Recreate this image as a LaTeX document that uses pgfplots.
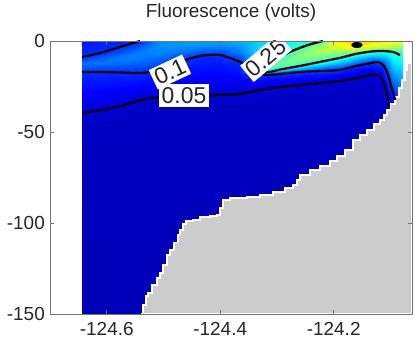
\documentclass[border=0pt]{standalone}
\usepackage{fontspec}
\setmainfont{Liberation Sans}
\usepackage{pgfplots}
\pgfplotsset{compat=1.18}
\begin{document}
\begin{tikzpicture}
\begin{axis}[
  width=362bp, height=273bp, scale only axis,
  xmin=-124.7, xmax=-124.062, ymin=-150, ymax=0,
  xtick={-124.6,-124.4,-124.2}, xticklabels={-124.6,-124.4,-124.2},
  ytick={-150,-100,-50,0}, yticklabels={-150,-100,-50,0},
  tick align=inside, major tick length=4bp,
  axis line style={black!55, line width=0.8bp},
  every tick/.style={black!55, line width=0.8bp},
  ticklabel style={font=\fontsize{19}{19}\selectfont, text=black!85},
  xticklabel style={anchor=base, inner sep=0pt, yshift=-21bp},
  yticklabel style={anchor=east, inner sep=0pt, xshift=-5bp},
  colormap/jet, point meta min=0, point meta max=0.6,
  axis on top,
  title={Fluorescence (volts)},
  title style={at={(0.5,1)}, anchor=base, inner sep=0pt, yshift=17.5bp, font=\fontsize{19}{19}\selectfont, text=black!85},
]
\addplot[surf, shader=interp, point meta=explicit, mesh/cols=19, mesh/rows=17]
 table[x=x, y=y, meta=v, row sep=\\] {
x y v\\
-124.644 0 0.085\\ -124.61 0 0.09\\ -124.575 0 0.095\\ -124.54 0 0.1\\ -124.505 0 0.16\\ -124.47 0 0.165\\ -124.435 0 0.17\\ -124.4 0 0.17\\ -124.365 0 0.18\\ -124.33 0 0.2\\ -124.295 0 0.22\\ -124.26 0 0.24\\ -124.225 0 0.26\\ -124.19 0 0.39\\ -124.16 0 0.41\\ -124.135 0 0.4\\ -124.115 0 0.39\\ -124.095 0 0.38\\ -124.078 0 0.36\\
-124.644 -3 0.09\\ -124.61 -3 0.0945\\ -124.575 -3 0.0995\\ -124.54 -3 0.126\\ -124.505 -3 0.16\\ -124.47 -3 0.161\\ -124.435 -3 0.16\\ -124.4 -3 0.155\\ -124.365 -3 0.168\\ -124.33 -3 0.207\\ -124.295 -3 0.23\\ -124.26 -3 0.252\\ -124.225 -3 0.315\\ -124.19 -3 0.36\\ -124.16 -3 0.39\\ -124.135 -3 0.36\\ -124.115 -3 0.35\\ -124.095 -3 0.34\\ -124.078 -3 0.32\\
-124.644 -6 0.095\\ -124.61 -6 0.099\\ -124.575 -6 0.122\\ -124.54 -6 0.151\\ -124.505 -6 0.1545\\ -124.47 -6 0.144\\ -124.435 -6 0.125\\ -124.4 -6 0.12\\ -124.365 -6 0.151\\ -124.33 -6 0.213\\ -124.295 -6 0.2405\\ -124.26 -6 0.29\\ -124.225 -6 0.326\\ -124.19 -6 0.31\\ -124.16 -6 0.29\\ -124.135 -6 0.25\\ -124.115 -6 0.245\\ -124.095 -6 0.255\\ -124.078 -6 0.27\\
-124.644 -9 0.102\\ -124.61 -9 0.124\\ -124.575 -9 0.147\\ -124.54 -9 0.149\\ -124.505 -9 0.138\\ -124.47 -9 0.12\\ -124.435 -9 0.098\\ -124.4 -9 0.097\\ -124.365 -9 0.123\\ -124.33 -9 0.22\\ -124.295 -9 0.2525\\ -124.26 -9 0.308\\ -124.225 -9 0.285\\ -124.19 -9 0.255\\ -124.16 -9 0.207\\ -124.135 -9 0.174\\ -124.115 -9 0.18\\ -124.095 -9 0.2295\\ -124.078 -9 0.243\\
-124.644 -12 0.138\\ -124.61 -12 0.145\\ -124.575 -12 0.14\\ -124.54 -12 0.132\\ -124.505 -12 0.1215\\ -124.47 -12 0.0987\\ -124.435 -12 0.0912\\ -124.4 -12 0.09\\ -124.365 -12 0.0986\\ -124.33 -12 0.235\\ -124.295 -12 0.29\\ -124.26 -12 0.271\\ -124.225 -12 0.235\\ -124.19 -12 0.189\\ -124.16 -12 0.139\\ -124.135 -12 0.102\\ -124.115 -12 0.12\\ -124.095 -12 0.209\\ -124.078 -12 0.226\\
-124.644 -15 0.125\\ -124.61 -15 0.118\\ -124.575 -15 0.117\\ -124.54 -15 0.115\\ -124.505 -15 0.105\\ -124.47 -15 0.0906\\ -124.435 -15 0.0842\\ -124.4 -15 0.0832\\ -124.365 -15 0.09\\ -124.33 -15 0.25\\ -124.295 -15 0.2576\\ -124.26 -15 0.191\\ -124.225 -15 0.145\\ -124.19 -15 0.12\\ -124.16 -15 0.09\\ -124.135 -15 0.078\\ -124.115 -15 0.0895\\ -124.095 -15 0.189\\ -124.078 -15 0.209\\
-124.644 -18 0.098\\ -124.61 -18 0.0976\\ -124.575 -18 0.098\\ -124.54 -18 0.0986\\ -124.505 -18 0.093\\ -124.47 -18 0.0826\\ -124.435 -18 0.0772\\ -124.4 -18 0.0763\\ -124.365 -18 0.0815\\ -124.33 -18 0.128\\ -124.295 -18 0.0993\\ -124.26 -18 0.093\\ -124.225 -18 0.0886\\ -124.19 -18 0.0828\\ -124.16 -18 0.0674\\ -124.135 -18 0.0553\\ -124.115 -18 0.0737\\ -124.095 -18 0.168\\ -124.078 -18 0.192\\
-124.644 -21 0.091\\ -124.61 -21 0.0904\\ -124.575 -21 0.09\\ -124.54 -21 0.0885\\ -124.505 -21 0.0829\\ -124.47 -21 0.0746\\ -124.435 -21 0.0702\\ -124.4 -21 0.0694\\ -124.365 -21 0.073\\ -124.33 -21 0.086\\ -124.295 -21 0.079\\ -124.26 -21 0.072\\ -124.225 -21 0.066\\ -124.19 -21 0.058\\ -124.16 -21 0.0488\\ -124.135 -21 0.0462\\ -124.115 -21 0.0579\\ -124.095 -21 0.148\\ -124.078 -21 0.176\\
-124.644 -24 0.0845\\ -124.61 -24 0.0833\\ -124.575 -24 0.0818\\ -124.54 -24 0.0784\\ -124.505 -24 0.0728\\ -124.47 -24 0.0666\\ -124.435 -24 0.0633\\ -124.4 -24 0.0624\\ -124.365 -24 0.0645\\ -124.33 -24 0.0677\\ -124.295 -24 0.0588\\ -124.26 -24 0.0514\\ -124.225 -24 0.0485\\ -124.19 -24 0.0467\\ -124.16 -24 0.0438\\ -124.135 -24 0.0412\\ -124.115 -24 0.0475\\ -124.095 -24 0.127\\ -124.078 -24 0.164\\
-124.644 -28 0.0757\\ -124.61 -28 0.0737\\ -124.575 -28 0.0709\\ -124.54 -28 0.0649\\ -124.505 -28 0.0594\\ -124.47 -28 0.0559\\ -124.435 -28 0.054\\ -124.4 -28 0.0532\\ -124.365 -28 0.0531\\ -124.33 -28 0.048\\ -124.295 -28 0.0455\\ -124.26 -28 0.0437\\ -124.225 -28 0.0418\\ -124.19 -28 0.04\\ -124.16 -28 0.0397\\ -124.135 -28 0.0395\\ -124.115 -28 0.0408\\ -124.095 -28 0.1\\ -124.078 -28 0.152\\
-124.644 -32 0.0668\\ -124.61 -32 0.0641\\ -124.575 -32 0.06\\ -124.54 -32 0.0514\\ -124.505 -32 0.048\\ -124.47 -32 0.047\\ -124.435 -32 0.0462\\ -124.4 -32 0.0457\\ -124.365 -32 0.0452\\ -124.33 -32 0.0415\\ -124.295 -32 0.0395\\ -124.26 -32 0.0395\\ -124.225 -32 0.0393\\ -124.19 -32 0.0393\\ -124.16 -32 0.039\\ -124.135 -32 0.039\\ -124.115 -32 0.0395\\ -124.095 -32 0.08\\ -124.078 -32 0.14\\
-124.644 -36 0.058\\ -124.61 -36 0.0545\\ -124.575 -36 0.0495\\ -124.54 -36 0.044\\ -124.505 -36 0.0413\\ -124.47 -36 0.0403\\ -124.435 -36 0.0395\\ -124.4 -36 0.0395\\ -124.365 -36 0.0395\\ -124.33 -36 0.0395\\ -124.295 -36 0.039\\ -124.26 -36 0.039\\ -124.225 -36 0.039\\ -124.19 -36 0.039\\ -124.16 -36 0.0388\\ -124.135 -36 0.0388\\ -124.115 -36 0.039\\ -124.095 -36 0.06\\ -124.078 -36 0.12\\
-124.644 -40 0.049\\ -124.61 -40 0.0465\\ -124.575 -40 0.0428\\ -124.54 -40 0.04\\ -124.505 -40 0.0395\\ -124.47 -40 0.0395\\ -124.435 -40 0.039\\ -124.4 -40 0.039\\ -124.365 -40 0.039\\ -124.33 -40 0.039\\ -124.295 -40 0.0388\\ -124.26 -40 0.0388\\ -124.225 -40 0.0388\\ -124.19 -40 0.0388\\ -124.16 -40 0.0385\\ -124.135 -40 0.0385\\ -124.115 -40 0.0388\\ -124.095 -40 0.047\\ -124.078 -40 0.1\\
-124.644 -46 0.04\\ -124.61 -46 0.0395\\ -124.575 -46 0.0395\\ -124.54 -46 0.039\\ -124.505 -46 0.039\\ -124.47 -46 0.039\\ -124.435 -46 0.0388\\ -124.4 -46 0.0388\\ -124.365 -46 0.0388\\ -124.33 -46 0.0388\\ -124.295 -46 0.0385\\ -124.26 -46 0.0385\\ -124.225 -46 0.0385\\ -124.19 -46 0.0385\\ -124.16 -46 0.0383\\ -124.135 -46 0.0383\\ -124.115 -46 0.0385\\ -124.095 -46 0.04\\ -124.078 -46 0.08\\
-124.644 -55 0.0387\\ -124.61 -55 0.0388\\ -124.575 -55 0.0385\\ -124.54 -55 0.038\\ -124.505 -55 0.038\\ -124.47 -55 0.038\\ -124.435 -55 0.038\\ -124.4 -55 0.038\\ -124.365 -55 0.038\\ -124.33 -55 0.038\\ -124.295 -55 0.038\\ -124.26 -55 0.038\\ -124.225 -55 0.038\\ -124.19 -55 0.038\\ -124.16 -55 0.038\\ -124.135 -55 0.038\\ -124.115 -55 0.038\\ -124.095 -55 0.038\\ -124.078 -55 0.06\\
-124.644 -80 0.036\\ -124.61 -80 0.036\\ -124.575 -80 0.036\\ -124.54 -80 0.036\\ -124.505 -80 0.036\\ -124.47 -80 0.036\\ -124.435 -80 0.036\\ -124.4 -80 0.036\\ -124.365 -80 0.036\\ -124.33 -80 0.036\\ -124.295 -80 0.036\\ -124.26 -80 0.036\\ -124.225 -80 0.036\\ -124.19 -80 0.036\\ -124.16 -80 0.036\\ -124.135 -80 0.036\\ -124.115 -80 0.036\\ -124.095 -80 0.036\\ -124.078 -80 0.04\\
-124.644 -150 0.034\\ -124.61 -150 0.034\\ -124.575 -150 0.034\\ -124.54 -150 0.034\\ -124.505 -150 0.034\\ -124.47 -150 0.034\\ -124.435 -150 0.034\\ -124.4 -150 0.034\\ -124.365 -150 0.034\\ -124.33 -150 0.034\\ -124.295 -150 0.034\\ -124.26 -150 0.034\\ -124.225 -150 0.034\\ -124.19 -150 0.034\\ -124.16 -150 0.034\\ -124.135 -150 0.034\\ -124.115 -150 0.034\\ -124.095 -150 0.034\\ -124.078 -150 0.035\\
};
% bathymetry
\addplot[fill=gray!40, draw=white, line width=1.2bp, const plot mark left] coordinates {
(-124.5396,-150) (-124.5361,-145.1) (-124.5309,-140.1) (-124.5273,-138.5) (-124.5203,-134.1)
(-124.5115,-130.2) (-124.5062,-127.5) (-124.5009,-123.1) (-124.4938,-117.6) (-124.4886,-114.8)
(-124.4815,-110.5) (-124.4745,-106.1) (-124.4710,-103.9) (-124.4657,-100.6) (-124.4604,-98.9)
(-124.4480,-98.4) (-124.4357,-96.7) (-124.4181,-96.2) (-124.4058,-95.6) (-124.4005,-91.8)
(-124.3952,-87.4) (-124.3828,-86.3) (-124.3529,-85.7) (-124.3300,-84.6) (-124.3071,-83.0)
(-124.2859,-80.8) (-124.2718,-79.1) (-124.2648,-76.4) (-124.2595,-73.6) (-124.2419,-70.9)
(-124.2243,-68.7) (-124.2066,-65.9) (-124.1943,-63.2) (-124.1802,-59.9) (-124.1661,-54.4)
(-124.1538,-51.7) (-124.1414,-48.9) (-124.1291,-45.6) (-124.1185,-43.4) (-124.1115,-40.7)
(-124.1062,-37.9) (-124.0992,-34.6) (-124.0921,-30.8) (-124.0850,-25.8) (-124.0798,-21.4)
(-124.0745,-15.9) (-124.0709,-12.1) (-124.0657,-9.9) (-124.062,-9.3) (-124.062,-150)
} -- cycle;
% contour 0.1 (upper, left)
\addplot[black, line width=2.2bp, smooth, tension=0.4] coordinates {
(-124.6436,-8.8) (-124.6119,-6.6) (-124.5767,-3.3) (-124.5414,0)
};
% contour 0.1
\addplot[black, line width=2.2bp, smooth, tension=0.4] coordinates {
(-124.6436,-17.0) (-124.6101,-17.0) (-124.5749,-17.3) (-124.5396,-17.6) (-124.5044,-15.9)
(-124.4710,-11.5) (-124.4357,-8.2) (-124.4005,-7.7) (-124.3652,-11.5) (-124.3388,-15.9)
(-124.3212,-18.7) (-124.2947,-18.1) (-124.2595,-17.0) (-124.2243,-16.5) (-124.1890,-15.9)
(-124.1608,-13.7) (-124.1344,-12.1) (-124.1221,-11.5) (-124.1115,-13.7) (-124.1044,-18.1)
(-124.0992,-24.2) (-124.0939,-29.7) (-124.0921,-32.4)
};
% contour 0.25
\addplot[black, line width=2.2bp, smooth, tension=0.4] coordinates {
(-124.2190,0) (-124.2454,-2.2) (-124.2736,-5.5) (-124.2947,-8.8) (-124.3212,-12.6)
(-124.3388,-15.9) (-124.3335,-17.4) (-124.3124,-17.0) (-124.2947,-15.7) (-124.2595,-13.7)
(-124.2243,-11.5) (-124.1890,-9.3) (-124.1608,-7.1) (-124.1344,-5.8) (-124.1150,-5.5)
(-124.0957,-6.0) (-124.0833,-7.7)
};
% contour 0.05
\addplot[black, line width=2.2bp, smooth, tension=0.4] coordinates {
(-124.6436,-39.6) (-124.6101,-37.9) (-124.5749,-35.7) (-124.5396,-32.4) (-124.5044,-30.8)
(-124.4621,-30.2) (-124.4093,-29.7) (-124.3652,-29.1) (-124.3300,-26.9) (-124.2947,-25.3)
(-124.2595,-24.2) (-124.2243,-23.1) (-124.1890,-22.0) (-124.1608,-20.3) (-124.1344,-18.7)
(-124.1221,-18.7) (-124.1133,-21.4) (-124.1080,-26.9) (-124.1044,-32.4) (-124.1040,-35.7)
};
% small closed contour
\addplot[black, fill=black, line width=1bp] coordinates {
(-124.1681,-2.2) (-124.1655,-1.2) (-124.1591,-0.8) (-124.1527,-1.2) (-124.1501,-2.2)
(-124.1527,-3.2) (-124.1591,-3.6) (-124.1655,-3.2)
} -- cycle;
\node[fill=white, inner sep=2.5bp, rotate=25, font=\fontsize{23}{23}\selectfont, text=black!85] at (axis cs:-124.4886,-17.0) {0.1};
\node[fill=white, inner sep=3bp, font=\fontsize{23}{23}\selectfont, text=black!85] at (axis cs:-124.4639,-29.9) {0.05};
\node[fill=white, inner sep=2.5bp, rotate=40, font=\fontsize{23}{23}\selectfont, text=black!85] at (axis cs:-124.3194,-9.3) {0.25};
\end{axis}
\pgfresetboundingbox
\path[use as bounding box] ([shift={(-50bp,-26bp)}]current axis.south west) rectangle ([shift={(3bp,41bp)}]current axis.north east);
\end{tikzpicture}
\end{document}
